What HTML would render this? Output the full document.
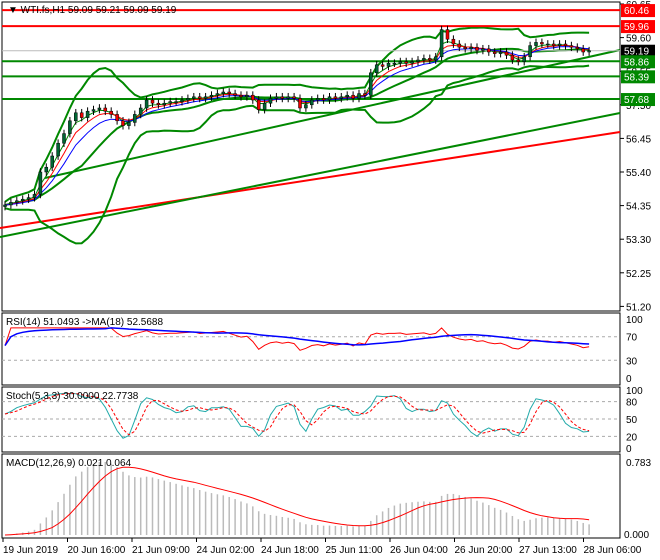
<!DOCTYPE html>
<html><head><meta charset="utf-8"><style>
body{margin:0;background:#fff;width:660px;height:560px;overflow:hidden;font-family:"Liberation Sans",sans-serif}
svg{display:block}
text{font-family:"Liberation Sans",sans-serif;font-size:10px}
</style></head><body>
<svg id="c" width="660" height="560"></svg>
<script>
const closes=[54.37,54.45,54.5,54.55,54.6,54.7,55.4,55.55,55.9,56.3,56.6,57.0,57.25,57.1,57.3,57.35,57.4,57.3,57.2,57.0,56.85,56.95,57.2,57.4,57.65,57.55,57.5,57.55,57.6,57.6,57.65,57.7,57.75,57.7,57.75,57.8,57.85,57.9,57.85,57.8,57.75,57.8,57.65,57.35,57.55,57.7,57.75,57.7,57.75,57.7,57.4,57.5,57.65,57.7,57.65,57.75,57.7,57.75,57.8,57.7,57.85,57.8,58.5,58.75,58.7,58.8,58.8,58.85,58.8,58.85,58.9,58.95,58.9,59.0,59.85,59.55,59.4,59.3,59.25,59.3,59.2,59.25,59.15,59.1,59.15,59.05,58.9,58.85,59.0,59.35,59.45,59.4,59.4,59.35,59.4,59.35,59.3,59.25,59.15,59.19];
const priceTicks=[60.65,59.60,58.55,57.50,56.45,55.40,54.35,53.30,52.25,51.20];
const hLevels=[60.46,59.96,58.86,58.39,57.68];
const hColors=["#f00","#f00","#080","#080","#080"];
const timeLabels=["19 Jun 2019","20 Jun 16:00","21 Jun 09:00","24 Jun 02:00","24 Jun 18:00","25 Jun 11:00","26 Jun 04:00","26 Jun 20:00","27 Jun 13:00","28 Jun 06:00"];
const rsiTicks=[100,70,30,0];
const stochTicks=[100,80,50,20,0];

const svg=document.getElementById('c');const NS="http://www.w3.org/2000/svg";
function el(t,a,p){const e=document.createElementNS(NS,t);for(const k in a)e.setAttribute(k,a[k]);(p||svg).appendChild(e);return e;}
function txt(x,y,s,a){const e=el('text',Object.assign({x:x,y:y},a||{}));e.textContent=s;return e;}
const X=i=>5+i*5.9;
const Y=p=>4+(60.65-p)*32;
const RY=v=>378-v*0.59, SY=v=>448-v*0.58;
const n=closes.length;
[[2,2,311],[2,313,385],[2,387,452],[2,454,538]].forEach((b,k)=>{const r=el('rect',{x:2,y:b[1],width:618,height:b[2]-b[1],fill:'none',stroke:'#000'});
});
priceTicks.forEach(p=>{el('line',{x1:620,x2:624,y1:Y(p),y2:Y(p),stroke:'#000'});const t=txt(626,Y(p)+4,p.toFixed(2));});
function sma(a,p){return a.map((v,i)=>{const s=a.slice(Math.max(0,i-p+1),i+1);return s.reduce((x,y)=>x+y,0)/s.length;});}
function ema(a,p){const k=2/(p+1);let r=[];a.forEach((v,i)=>r.push(i?v*k+r[i-1]*(1-k):v));return r;}
function poly(pts,a,name){const e=el('polyline',Object.assign({points:pts.map(p=>p[0].toFixed(1)+','+p[1].toFixed(1)).join(' '),fill:'none'},a));return e;}
[[0,228,620,132,'#f00','ma-200-red'],[0,237,620,113,'#080','trend-line-lower'],[45,178,620,50,'#080','trend-line-upper']].forEach(l=>{const e=el('line',{x1:l[0],y1:l[1],x2:l[2],y2:l[3],stroke:l[4],'stroke-width':2});});
const BP=14;
const mid=sma(closes,BP);const sd=closes.map((v,i)=>{const s=closes.slice(Math.max(0,i-BP+1),i+1);const m=mid[i];return Math.sqrt(s.reduce((a,b)=>a+(b-m)*(b-m),0)/s.length);});
poly(closes.map((v,i)=>[X(i),Y(mid[i]+2.2*sd[i]+0.1)]),{stroke:'#080','stroke-width':2},'bollinger-upper');
poly(closes.map((v,i)=>[X(i),Y(mid[i]-2.2*sd[i]-0.1)]),{stroke:'#080','stroke-width':2},'bollinger-lower');
poly(closes.map((v,i)=>[X(i),Y(mid[i])]),{stroke:'#080','stroke-width':2},'bollinger-middle');
hLevels.forEach((p,k)=>{const e=el('line',{x1:2,x2:620,y1:Y(p),y2:Y(p),stroke:hColors[k],'stroke-width':2});});
el('line',{x1:2,x2:620,y1:Y(closes[n-1]),y2:Y(closes[n-1]),stroke:'#bbb'});
poly(closes.map((v,i)=>[X(i),Y(ema(closes,3)[i])]),{stroke:'#080','stroke-width':1},'ema-green');
poly(closes.map((v,i)=>[X(i),Y(ema(closes,5)[i])]),{stroke:'#f00','stroke-width':1},'ema-red');
poly(closes.map((v,i)=>[X(i),Y(ema(closes,8)[i])]),{stroke:'#00f','stroke-width':1},'ema-blue');
const highs=[],lows=[];
closes.forEach((c,i)=>{const o=i?closes[i-1]:c-0.05;const h=Math.max(o,c)+0.12,l=Math.min(o,c)-0.12;highs.push(h);lows.push(l);
const g=el('g',{});
el('line',{x1:X(i),x2:X(i),y1:Y(h),y2:Y(l),stroke:'#000'},g);
const t=Math.min(Y(o),Y(c));el('rect',{x:X(i)-1.5,y:t,width:3,height:Math.max(1,Math.abs(Y(o)-Y(c))),fill:c>=o?'#063':'#e00',stroke:'#000','stroke-width':0.5},g);});
const lab=[[60.46,'#f00','#fff'],[59.96,'#f00','#fff'],[59.19,'#000','#fff'],[58.86,'#080','#fff'],[58.39,'#080','#fff'],[57.68,'#080','#fff']];
lab.forEach(l=>{el('rect',{x:621,y:Y(l[0])-6,width:34,height:13,fill:l[1]});const t=txt(624,Y(l[0])+4,l[0].toFixed(2),{fill:l[2]});});
txt(8,13,'▼ WTI.fs,H1  59.09 59.21 59.09 59.19',{'font-size':9});
const rsi=[];let ag=0,al=0;closes.forEach((c,i)=>{if(!i){rsi.push(55);return;}const d=c-closes[i-1];ag=(ag*13+Math.max(d,0))/14;al=(al*13+Math.max(-d,0))/14+1e-6;rsi.push(Math.min(85,Math.max(30,100-100/(1+ag/al))));});
const rsiMa=sma(rsi,18);
[70,30].forEach(v=>el('line',{x1:2,x2:620,y1:RY(v),y2:RY(v),stroke:'#aaa','stroke-dasharray':'3,3'}));
rsiTicks.forEach(v=>txt(626,RY(v)+4,String(v)));
poly(rsi.map((v,i)=>[X(i),RY(v)]),{stroke:'#f00'},'rsi-line');
poly(rsiMa.map((v,i)=>[X(i),RY(v)]),{stroke:'#00f','stroke-width':1.5},'rsi-ma-line');
txt(6,325,'RSI(14) 51.0493  ->MA(18) 52.5688',{'font-size':9});
const k=closes.map((c,i)=>{const hh=Math.max(...highs.slice(Math.max(0,i-4),i+1)),ll=Math.min(...lows.slice(Math.max(0,i-4),i+1));return 100*(c-ll)/(hh-ll);});
const ks=sma(k,2),ds=sma(ks,3);
[80,50,20].forEach(v=>el('line',{x1:2,x2:620,y1:SY(v),y2:SY(v),stroke:'#aaa','stroke-dasharray':'3,3'}));
stochTicks.forEach(v=>txt(626,SY(v)+4,String(v)));
poly(ks.map((v,i)=>[X(i),SY(v)]),{stroke:'#2aa'},'stoch-main');
poly(ds.map((v,i)=>[X(i),SY(v)]),{stroke:'#f00','stroke-dasharray':'3,2'},'stoch-signal');
txt(6,399,'Stoch(5,3,3) 30.0000 22.7738',{'font-size':9});
const macd=ema(closes,12).map((v,i)=>v-ema(closes,26)[i]);const sig=sma(macd,9);
const mx=Math.max(...macd,0.01);const MY=v=>535-Math.max(0,v)/mx*73;
macd.forEach((v,i)=>{const e=el('line',{x1:X(i),x2:X(i),y1:535,y2:MY(v),stroke:'#bbb','stroke-width':1.5});});
poly(sig.map((v,i)=>[X(i),MY(v)]),{stroke:'#f00'},'macd-signal');
txt(626,466,'0.783');txt(624,538,'0.000');
txt(6,466,'MACD(12,26,9) 0.021 0.064',{'font-size':9});
timeLabels.forEach((s,i)=>{const x=3+i*64.5;el('line',{x1:x,x2:x,y1:538,y2:542,stroke:'#000'});const t=txt(x,553,s,{'font-size':9});});
</script></body></html>
